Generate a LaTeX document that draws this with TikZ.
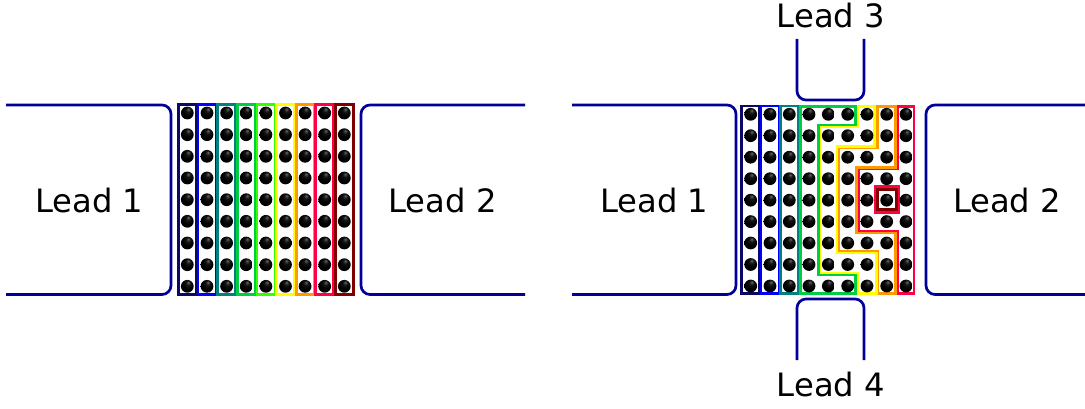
\documentclass[tikz,border=0pt]{standalone}
\usepackage{fontspec}
\setmainfont{DejaVu Sans}
\definecolor{leadc}{HTML}{000099}
\definecolor{c1}{HTML}{0A0A66}
\definecolor{c2}{HTML}{0000FF}
\definecolor{c3}{HTML}{008080}
\definecolor{c4}{HTML}{00CC44}
\definecolor{c5}{HTML}{33FF00}
\definecolor{c6}{HTML}{FFFF00}
\definecolor{c7}{HTML}{FF9900}
\definecolor{c8}{HTML}{FF0044}
\definecolor{c9}{HTML}{800000}
\pgfdeclareradialshading{blackdot}{\pgfpoint{4bp}{16bp}}{
  color(0bp)=(black!60!white);
  color(9bp)=(black!92!white);
  color(20bp)=(black);
  color(50bp)=(black)}
\tikzset{
  leadline/.style={draw=leadc,line width=2.7pt,rounded corners=9pt},
  strip/.style={line width=2.8pt,line join=miter},
  ball/.style={circle,inner sep=0pt,minimum size=12.8pt,shade,shading=blackdot},
  leadlabel/.style={font=\fontsize{32.2pt}{36pt}\selectfont,inner sep=0pt},
}
\begin{document}
\begin{tikzpicture}[x=1pt,y=-1pt]
\useasboundingbox (0,0) rectangle (1085,409);
% ---- left device
\foreach \i/\cx/\col in {1/187.3/c1,2/207/c2,3/226.6/c3,4/246.2/c4,5/265.9/c5,6/285.5/c6,7/305.1/c7,8/324.7/c8,9/344.3/c9}{
  \draw[strip,draw=\col] (\cx-9,104.5) rectangle (\cx+9,294.5);
}
\foreach \cx in {187.3,207,226.6,246.2,265.9,285.5,305.1,324.7,344.3}
  \foreach \cy in {113,134.7,156.3,178,199.7,221.3,243,264.7,286.3}
    \node[ball] at (\cx,\cy) {};
\draw[leadline] (6,105) -- (171,105) -- (171,294.5) -- (6,294.5);
\draw[leadline] (525,105) -- (361,105) -- (361,294.5) -- (525,294.5);
\node[leadlabel] (l1a) at (89.3,200.8) {Lead 1};
\node[leadlabel] (l2a) at (442.6,200.8) {Lead 2};
% ---- right device
\foreach \cx/\col in {750.7/c1,770/c2,789.3/c3}{
  \draw[strip,draw=\col] (\cx-9,106) rectangle (\cx+9,293.5);
}
\begin{scope}[shift={(735,95)},x=0.3333pt,y=-0.3333pt]
\draw[strip,draw=c8] (488,34)--(537,34)--(537,596)--(488,596)--(488,410)--(372,410)--(372,222)--(488,222)--cycle;
\draw[strip,draw=c7] (428,34)--(482,34)--(482,218)--(365,218)--(365,414)--(482,414)--(482,596)--(428,596)--(428,470)--(310,470)--(310,158)--(428,158)--cycle;
\draw[strip,draw=c6] (368,34)--(418,34)--(418,155)--(306,155)--(306,474)--(424,474)--(424,596)--(368,596)--(368,534)--(255,534)--(255,96)--(368,96)--cycle;
\draw[strip,draw=c4] (197,34)--(362,34)--(362,90)--(250,90)--(250,540)--(362,540)--(362,596)--(197,596)--cycle;
\draw[strip,draw=c8] (421,275)--(491,275)--(491,352)--(421,352)--cycle;
\draw[strip,draw=c9] (428,283)--(485,283)--(485,344)--(428,344)--cycle;
\end{scope}
\foreach \cx in {750.7,770,789.3,809,828.3,847.7,867,886.7,906}
  \foreach \cy in {114.3,135.7,157.2,178.7,200.2,221.6,243,264.5,286}
    \node[ball] at (\cx,\cy) {};
\draw[leadline] (572,105) -- (736,105) -- (736,294.5) -- (572,294.5);
\draw[leadline] (1085,105) -- (926,105) -- (926,294.5) -- (1085,294.5);
\draw[leadline] (797,39) -- (797,100) -- (864,100) -- (864,39);
\draw[leadline] (797,360) -- (797,299) -- (864,299) -- (864,360);
\node[leadlabel] (l1b) at (654.3,200.8) {Lead 1};
\node[leadlabel] (l2b) at (1007.1,200.8) {Lead 2};
\node[leadlabel] (l3) at (831,15.5) {Lead 3};
\node[leadlabel] (l4) at (831,384.5) {Lead 4};
\end{tikzpicture}
\end{document}
